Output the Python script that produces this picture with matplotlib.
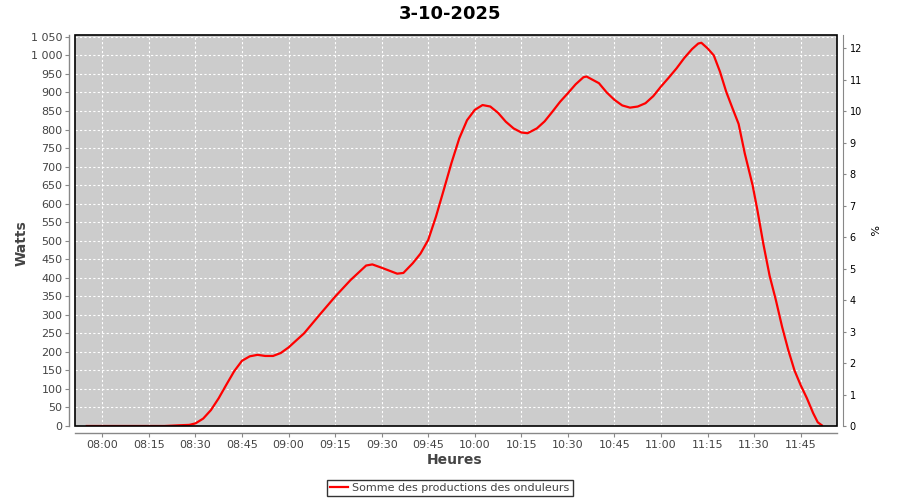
import matplotlib
matplotlib.use('Agg')
import matplotlib.pyplot as plt
import matplotlib.dates as mdates
from matplotlib.ticker import FuncFormatter, MultipleLocator
from matplotlib.patches import Rectangle
import datetime as dt

title = "3-10-2025"
series_name = "Somme des productions des onduleurs"

times = ["07:55:00", "08:00:00", "08:10:00", "08:20:00", "08:25:00", "08:28:00",
         "08:30:00", "08:32:30", "08:35:00", "08:37:30", "08:40:00", "08:42:30",
         "08:45:00", "08:47:30", "08:50:00", "08:52:30", "08:55:00", "08:57:30",
         "09:00:00", "09:05:00", "09:10:00", "09:15:00", "09:20:00", "09:25:00",
         "09:27:00", "09:30:00", "09:35:00", "09:37:00", "09:40:00", "09:42:30",
         "09:45:00", "09:47:30", "09:50:00", "09:52:30", "09:55:00", "09:57:30",
         "10:00:00", "10:02:30", "10:05:00", "10:07:30", "10:10:00", "10:12:30",
         "10:15:00", "10:17:00", "10:20:00", "10:22:30", "10:25:00", "10:27:30",
         "10:30:00", "10:32:30", "10:35:00", "10:36:00", "10:40:00", "10:42:30",
         "10:45:00", "10:47:30", "10:50:00", "10:52:30", "10:55:00", "10:57:30",
         "11:00:00", "11:02:30", "11:05:00", "11:07:30", "11:10:00", "11:12:00",
         "11:13:00", "11:15:00", "11:17:00", "11:19:00", "11:21:00", "11:23:00",
         "11:25:00", "11:27:00", "11:29:30", "11:31:00", "11:33:00", "11:35:00",
         "11:37:00", "11:39:00", "11:41:00", "11:43:00", "11:45:00", "11:47:00",
         "11:49:00", "11:50:30", "11:51:48"]
watts = [0, 0, 0, 0, 2, 3,
         7, 20, 43, 75, 112, 148,
         176, 188, 192, 189, 189, 197,
         212, 250, 300, 349, 394, 433,
         436, 427, 411, 413, 439, 465,
         502, 565, 637, 710, 776, 825,
         853, 866, 862, 845, 821, 803,
         792, 790, 803, 822, 848, 875,
         898, 922, 941, 943, 925, 900,
         880, 865, 859, 862, 871, 890,
         916, 940, 965, 993, 1017, 1032,
         1034, 1019, 1000, 956, 902, 858,
         815, 735, 650, 585, 490, 405,
         340, 268, 205, 150, 110, 75,
         35, 10, 2]

left_ticks = list(range(0, 1051, 50))
right_ticks = list(range(0, 13))

base = dt.datetime(2025, 10, 3)
def to_dt(s):
    h, m, sec = (int(v) for v in s.split(":"))
    return base + dt.timedelta(hours=h, minutes=m, seconds=sec)
tx = [to_dt(s) for s in times]

plt.rcParams['font.family'] = ['DejaVu Sans']

fig = plt.figure(figsize=(9, 5), dpi=100)
fig.patch.set_facecolor('white')
ax = fig.add_axes([75/900, 1-426/500, (837-75)/900, (426-35)/500])
ax.set_facecolor('#cccccc')

ax.plot(tx, watts, color='#ff0000', linewidth=1.6, zorder=3, label=series_name)

ax.set_xlim(to_dt("07:51:12"), to_dt("11:56:42"))
ax.set_ylim(0, 1055)
ax.set_yticks(left_ticks)
ax.yaxis.set_major_formatter(FuncFormatter(lambda v, p: f"{int(v):,}".replace(",", " ")))
ax.xaxis.set_major_locator(mdates.MinuteLocator(byminute=[0, 15, 30, 45]))
ax.xaxis.set_major_formatter(mdates.DateFormatter('%H:%M'))

ax.set_axisbelow(True)
ax.grid(True, color='white', linestyle=(0, (2, 2)), linewidth=0.8)

for s in ['top', 'right']:
    ax.spines[s].set_visible(False)
ax.spines['left'].set_position(('outward', 4))
ax.spines['bottom'].set_position(('outward', 5))
for s in ['left', 'bottom']:
    ax.spines[s].set_color('#888888')
    ax.spines[s].set_linewidth(1)
ax.tick_params(axis='y', length=3, width=0.8, color='#888888', labelcolor='#444444',
               labelsize=8, pad=2)
ax.tick_params(axis='x', length=3, width=0.8, color='#888888', labelcolor='#444444',
               labelsize=8, pad=2)

ax.add_patch(Rectangle((0, 0), 1, 1, transform=ax.transAxes, fill=False,
                       edgecolor='black', linewidth=1.2, zorder=5, clip_on=False))

ax2 = ax.twinx()
ax2.set_ylim(0, 12.42)
ax2.set_yticks(right_ticks)
for s in ['top', 'left', 'bottom']:
    ax2.spines[s].set_visible(False)
ax2.spines['right'].set_position(('outward', 4))
ax2.spines['right'].set_color('#888888')
ax2.tick_params(axis='y', length=2, width=0.8, color='#888888', labelcolor='black',
                labelsize=7, pad=3)

fig.text(450/900, 1-14/500, title, ha='center', va='center', fontsize=13,
         fontweight='bold', color='black')
fig.text(22/900, 1-243/500, 'Watts', rotation=90, ha='center', va='center',
         fontsize=10, fontweight='bold', color='#444444')
fig.text(455/900, 1-460/500, 'Heures', ha='center', va='center',
         fontsize=10, fontweight='bold', color='#444444')
fig.text(872/900, 1-230/500, '%', rotation=-90, ha='center', va='center',
         fontsize=8, color='black')

leg = fig.legend(loc='center', bbox_to_anchor=(450/900, 1-488/500), frameon=True,
                 fancybox=False, edgecolor='black', fontsize=8, handlelength=1.6,
                 handletextpad=0.4, borderpad=0.3, labelcolor='#444444')
leg.get_frame().set_linewidth(1)

fig.savefig('out.png', dpi=100)
